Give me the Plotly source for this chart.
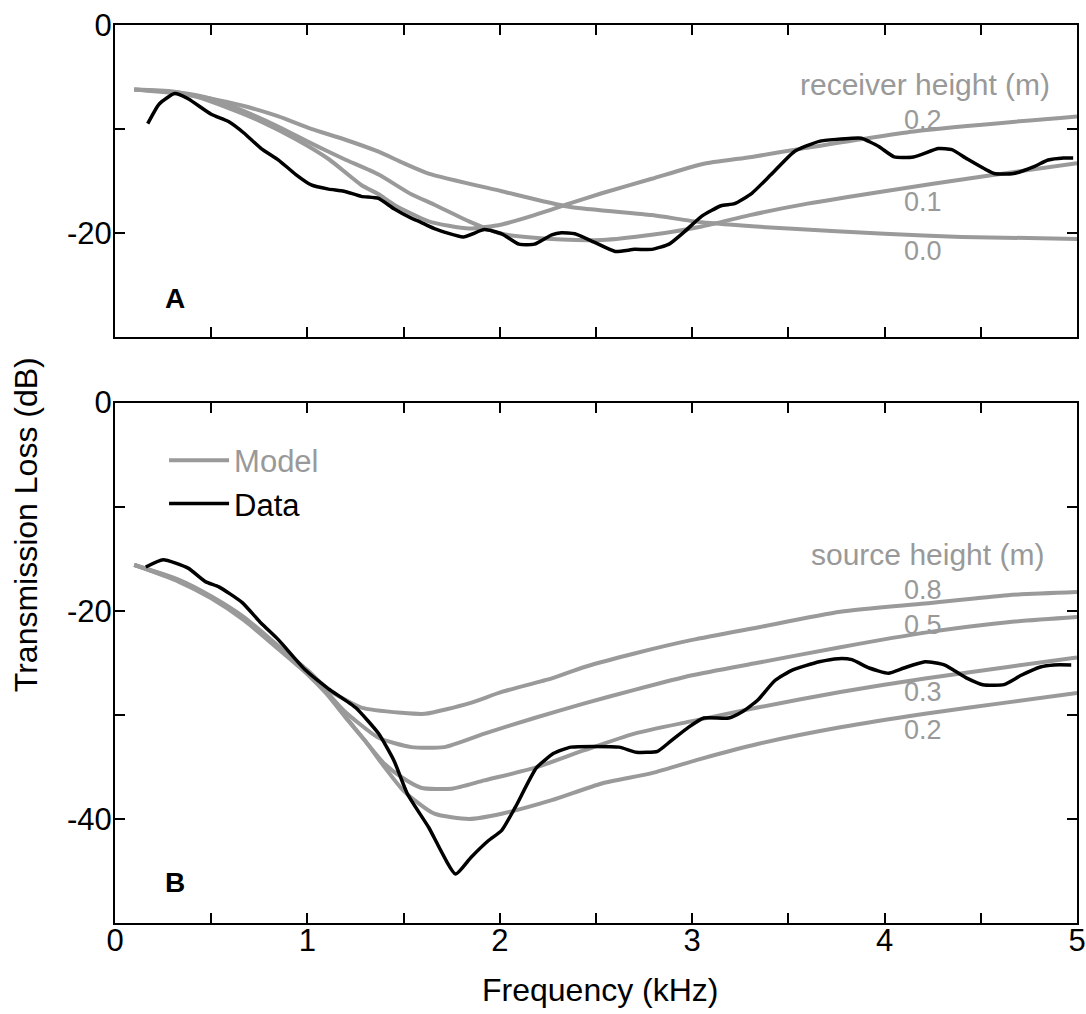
import plotly.graph_objects as go

# ---------------- Panel A (receiver height) ----------------
a_r00_f = [0.1, 0.33, 0.5, 0.67, 0.85, 1.02, 1.19, 1.37, 1.5, 1.63, 2.01, 2.36, 2.79, 3.05, 3.5, 4.0, 4.4, 5.0]
a_r00_db = [-6.2, -6.6, -7.1, -7.8, -8.8, -10.0, -11.0, -12.2, -13.3, -14.3, -16.0, -17.5, -18.3, -19.0, -19.6, -20.1, -20.4, -20.6]

a_r01_f = [0.1, 0.33, 0.5, 0.67, 0.85, 1.02, 1.19, 1.37, 1.54, 1.66, 1.84, 2.01, 2.27, 2.53, 2.79, 3.05, 3.3, 3.6, 4.0, 4.5, 5.0]
a_r01_db = [-6.2, -6.5, -7.1, -8.3, -9.8, -11.4, -12.9, -14.4, -16.3, -17.3, -18.9, -20.1, -20.6, -20.7, -20.2, -19.4, -18.3, -17.2, -16.0, -14.6, -13.3]

a_r02_f = [0.1, 0.3, 0.42, 0.59, 0.76, 0.94, 1.11, 1.28, 1.37, 1.45, 1.63, 1.84, 2.01, 2.18, 2.36, 2.53, 2.79, 3.05, 3.31, 3.57, 4.17, 5.0]
a_r02_db = [-6.2, -6.4, -6.9, -8.0, -9.3, -11.0, -12.9, -15.4, -16.3, -17.3, -18.9, -19.6, -19.2, -18.3, -17.2, -16.2, -14.8, -13.4, -12.7, -11.9, -10.2, -8.8]

a_data_f = [0.17, 0.23, 0.31, 0.38, 0.50, 0.59, 0.67, 0.76, 0.85, 0.94, 1.02, 1.11, 1.19, 1.28, 1.37, 1.45,
            1.54, 1.58, 1.66, 1.81, 1.92, 2.01, 2.10, 2.18, 2.27, 2.32, 2.39, 2.49, 2.60, 2.70, 2.79, 2.88,
            2.96, 3.05, 3.15, 3.22, 3.31, 3.41, 3.53, 3.66, 3.83, 3.88, 3.97, 4.05, 4.15, 4.28, 4.35, 4.43,
            4.57, 4.67, 4.78, 4.85, 4.93, 4.98]
a_data_db = [-9.5, -7.6, -6.6, -7.1, -8.6, -9.3, -10.4, -11.9, -13.0, -14.4, -15.4, -15.8, -16.0, -16.5, -16.7, -17.7,
             -18.6, -18.9, -19.6, -20.4, -19.7, -20.1, -21.1, -21.1, -20.2, -20.0, -20.1, -20.9, -21.8, -21.6, -21.6, -21.1,
             -19.9, -18.4, -17.4, -17.2, -16.2, -14.4, -12.2, -11.2, -10.9, -10.9, -11.7, -12.7, -12.7, -11.9, -12.0, -12.9,
             -14.3, -14.3, -13.6, -13.0, -12.8, -12.8]

# ---------------- Panel B (source height) ----------------
b_s08_f = [0.1, 0.33, 0.5, 0.67, 0.85, 1.0, 1.11, 1.28, 1.49, 1.61, 1.84, 2.01, 2.27, 2.44, 2.70, 3.0, 3.34, 3.77, 4.21, 4.64, 5.0]
b_s08_db = [-15.6, -17.0, -18.6, -20.6, -23.4, -25.7, -27.6, -29.3, -29.8, -29.9, -28.9, -27.8, -26.5, -25.4, -24.1, -22.8, -21.6, -20.1, -19.3, -18.5, -18.2]

b_s05_f = [0.1, 0.33, 0.5, 0.67, 0.85, 1.0, 1.1, 1.19, 1.37, 1.54, 1.71, 1.92, 2.18, 2.44, 2.70, 3.0, 3.34, 3.77, 4.21, 4.64, 5.0]
b_s05_db = [-15.6, -17.1, -18.7, -20.7, -23.5, -25.9, -27.8, -29.6, -32.2, -33.1, -33.1, -31.8, -30.3, -28.9, -27.6, -26.2, -25.0, -23.5, -22.1, -21.1, -20.6]

b_s03_f = [0.1, 0.33, 0.5, 0.67, 0.85, 1.0, 1.1, 1.2, 1.3, 1.4, 1.49, 1.59, 1.75, 1.92, 2.18, 2.44, 2.70, 3.0, 3.34, 3.77, 4.21, 4.64, 5.0]
b_s03_db = [-15.6, -17.1, -18.7, -20.8, -23.6, -26.0, -27.9, -30.2, -32.5, -34.7, -36.0, -37.0, -37.1, -36.3, -35.1, -33.4, -31.8, -30.6, -29.3, -27.8, -26.5, -25.4, -24.5]

b_s02_f = [0.1, 0.33, 0.5, 0.67, 0.85, 1.0, 1.1, 1.2, 1.3, 1.4, 1.5, 1.66, 1.84, 2.01, 2.27, 2.53, 2.79, 3.05, 3.34, 3.77, 4.21, 4.64, 5.0]
b_s02_db = [-15.6, -17.2, -18.8, -20.9, -23.7, -26.1, -28.0, -30.3, -32.5, -35.0, -37.3, -39.5, -40.0, -39.5, -38.2, -36.6, -35.6, -34.2, -32.8, -31.2, -29.9, -28.8, -27.9]

b_data_f = [0.16, 0.25, 0.38, 0.47, 0.54, 0.66, 0.76, 0.85, 0.99, 1.11, 1.25, 1.37, 1.45, 1.52, 1.63, 1.77,
            1.85, 1.94, 2.01, 2.08, 2.19, 2.28, 2.37, 2.62, 2.71, 2.82, 2.89, 2.98, 3.06, 3.19, 3.26, 3.34,
            3.43, 3.52, 3.66, 3.76, 3.83, 3.92, 4.02, 4.10, 4.21, 4.31, 4.43, 4.51, 4.62, 4.71, 4.81, 4.88, 4.97]
b_data_db = [-15.8, -15.1, -15.9, -17.2, -17.7, -19.2, -21.2, -22.8, -25.7, -27.5, -29.3, -31.8, -34.4, -37.6, -40.8, -45.3,
             -43.7, -42.1, -41.1, -38.9, -35.1, -33.7, -33.1, -33.1, -33.6, -33.5, -32.5, -31.2, -30.3, -30.3, -29.7, -28.6,
             -26.7, -25.7, -24.9, -24.6, -24.7, -25.5, -26.0, -25.5, -24.9, -25.2, -26.5, -27.1, -27.1, -26.2, -25.4, -25.2, -25.2]

# ---------------- Tick labels and text ----------------
x_tickvals = [0, 1, 2, 3, 4, 5]
x_ticktext = ["0", "1", "2", "3", "4", "5"]
a_tickvals = [-20, 0]
a_ticktext = ["-20", "0"]
b_tickvals = [-40, -20, 0]
b_ticktext = ["-40", "-20", "0"]

a_labels = ["receiver height (m)", "0.2", "0.1", "0.0"]
b_labels = ["source height (m)", "0.8", "0.5", "0.3", "0.2"]

GRAY = "#9a9a9a"
LABEL_GRAY = "#999999"
FONT = "Liberation Sans, Arial, sans-serif"
FS_TICK = 31
FS_TITLE = 32
FS_HEAD = 30
FS_NUM = 27

fig = go.Figure()

def model(x, y, xa, ya, show=False):
    fig.add_trace(go.Scatter(x=x, y=y, mode="lines", xaxis=xa, yaxis=ya,
                             line=dict(color=GRAY, width=4, shape="spline", smoothing=0.6),
                             name="<span style='color:#999999'>Model</span>", showlegend=show,
                             hoverinfo="skip"))

def data(x, y, xa, ya, show=False):
    fig.add_trace(go.Scatter(x=x, y=y, mode="lines", xaxis=xa, yaxis=ya,
                             line=dict(color="black", width=3.5, shape="spline", smoothing=0.5),
                             name="Data", showlegend=show, hoverinfo="skip"))

# Panel A (top)
model(a_r00_f, a_r00_db, "x", "y")
model(a_r01_f, a_r01_db, "x", "y")
model(a_r02_f, a_r02_db, "x", "y")
data(a_data_f, a_data_db, "x", "y")

# Panel B (bottom)
model(b_s08_f, b_s08_db, "x2", "y2", show=True)
model(b_s05_f, b_s05_db, "x2", "y2")
model(b_s03_f, b_s03_db, "x2", "y2")
model(b_s02_f, b_s02_db, "x2", "y2")
data(b_data_f, b_data_db, "x2", "y2", show=True)

axis_common = dict(
    showline=True, linecolor="black", linewidth=2, mirror="allticks",
    ticks="inside", ticklen=10, tickwidth=1.5, tickcolor="black",
    showgrid=False, zeroline=False,
    tickfont=dict(family=FONT, size=FS_TICK, color="black"),
)
minor_x = dict(dtick=0.5, tick0=0, ticks="inside", ticklen=10, tickwidth=1.5, tickcolor="black")
minor_y = dict(dtick=10, tick0=0, ticks="inside", ticklen=10, tickwidth=1.5, tickcolor="black")

fig.update_layout(
    width=1094, height=1014,
    margin=dict(l=115, r=8, t=24, b=91),
    paper_bgcolor="white", plot_bgcolor="white",
    font=dict(family=FONT, size=FS_TITLE, color="black"),
    xaxis=dict(domain=[0, 1], range=[0, 5], anchor="y", tickmode="array",
               tickvals=x_tickvals, ticktext=x_ticktext, showticklabels=False,
               minor=minor_x, **axis_common),
    yaxis=dict(domain=[0.653, 1], range=[-30, 0], anchor="x", tickmode="array",
               tickvals=a_tickvals, ticktext=a_ticktext, ticklabelstandoff=-5,
               minor=minor_y, **axis_common),
    xaxis2=dict(domain=[0, 1], range=[0, 5], anchor="y2", tickmode="array",
                tickvals=x_tickvals, ticktext=x_ticktext, ticklabelstandoff=-11,
                minor=minor_x, **axis_common),
    yaxis2=dict(domain=[0, 0.5795], range=[-50, 0], anchor="x2", tickmode="array",
                tickvals=b_tickvals, ticktext=b_ticktext, ticklabelstandoff=-5,
                minor=minor_y, **axis_common),
    legend=dict(x=0.051, y=0.545, xanchor="left", yanchor="top",
                bgcolor="rgba(0,0,0,0)", borderwidth=0,
                font=dict(family=FONT, size=FS_TICK, color="black"),
                itemwidth=60, tracegroupgap=0),
    showlegend=True,
)

ann = []
# Panel A labels
ann.append(dict(x=4.87, y=-5.7, xref="x", yref="y", text=a_labels[0], showarrow=False,
                xanchor="right", yanchor="middle", font=dict(color=LABEL_GRAY, size=FS_HEAD)))
for txt, yv in zip(a_labels[1:], [-9.1, -17.0, -21.8]):
    ann.append(dict(x=4.2, y=yv, xref="x", yref="y", text=txt, showarrow=False,
                    xanchor="center", yanchor="middle", font=dict(color=LABEL_GRAY, size=FS_NUM)))
ann.append(dict(x=0.31, y=-26.3, xref="x", yref="y", text="<b>A</b>", showarrow=False,
                xanchor="center", yanchor="middle", font=dict(color="black", size=28)))
# Panel B labels
ann.append(dict(x=4.84, y=-14.6, xref="x2", yref="y2", text=b_labels[0], showarrow=False,
                xanchor="right", yanchor="middle", font=dict(color=LABEL_GRAY, size=FS_HEAD)))
for txt, yv in zip(b_labels[1:], [-18.0, -21.4, -27.8, -31.5]):
    ann.append(dict(x=4.2, y=yv, xref="x2", yref="y2", text=txt, showarrow=False,
                    xanchor="center", yanchor="middle", font=dict(color=LABEL_GRAY, size=FS_NUM)))
ann.append(dict(x=0.31, y=-46.1, xref="x2", yref="y2", text="<b>B</b>", showarrow=False,
                xanchor="center", yanchor="middle", font=dict(color="black", size=28)))
# Axis titles
ann.append(dict(x=0, y=0.443, xref="paper", yref="paper", xshift=-89, text="Transmission Loss (dB)",
                textangle=-90, showarrow=False, xanchor="center", yanchor="middle",
                font=dict(color="black", size=FS_TITLE)))
ann.append(dict(x=0.505, y=-0.0745, xref="paper", yref="paper", text="Frequency (kHz)",
                showarrow=False, xanchor="center", yanchor="middle",
                font=dict(color="black", size=FS_TITLE)))
fig.update_layout(annotations=ann)

# remove the default page margin / scrollbars so the figure sits at the page origin
page_js = ("document.documentElement.style.margin='0';document.documentElement.style.padding='0';"
           "document.documentElement.style.overflow='hidden';"
           "document.body.style.margin='0';document.body.style.padding='0';"
           "document.body.style.overflow='hidden';")
fig.write_html("out.html", post_script=page_js, config={"displayModeBar": False})
